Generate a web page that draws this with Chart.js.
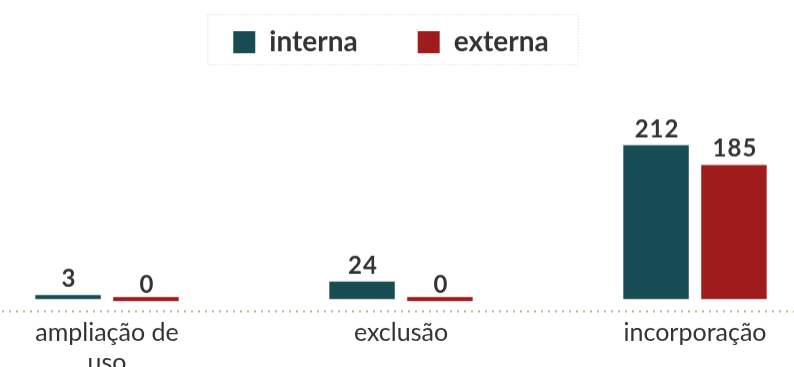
<!DOCTYPE html>
<html>
<head>
<meta charset="utf-8">
<script src="https://cdn.jsdelivr.net/npm/chart.js@4"></script>
<style>
  html, body { margin: 0; padding: 0; background: #fff; overflow: hidden; }
  #wrap { position: absolute; left: -40px; top: -32px; width: 882px; height: 406.5px; }
</style>
</head>
<body>
<div id="wrap"><canvas id="myChart"></canvas></div>
<script>
// Dataset
const categories = [["ampliação de", "uso"], "exclusão", "incorporação"];
const interna = [3, 24, 212];
const externa = [0, 0, 185];

const TEAL = "#184c54";
const RED = "#a01b1b";
const TEXT = "#333333";

// value labels over each bar
const valueLabels = {
  id: "valueLabels",
  afterDatasetsDraw(chart) {
    const ctx = chart.ctx;
    ctx.save();
    ctx.font = "bold 24px Lato";
    ctx.letterSpacing = "1px";
    ctx.fillStyle = TEXT;
    ctx.textAlign = "center";
    ctx.textBaseline = "bottom";
    chart.data.datasets.forEach((ds, i) => {
      chart.getDatasetMeta(i).data.forEach((bar, j) => {
        ctx.fillText(String(ds.data[j]), bar.x + 1, bar.y - 4);
      });
    });
    ctx.restore();
  }
};

// nudge the legend a little to the left, like the original
const legendShift = {
  id: "legendShift",
  afterLayout(chart) {
    chart.legend.left -= 10;
    chart.legend.right -= 10;
  }
};

// dotted frame round the legend + dotted baseline
const decorations = {
  id: "decorations",
  afterDraw(chart) {
    const ctx = chart.ctx;
    const boxes = chart.legend.legendHitBoxes;
    ctx.save();
    if (boxes && boxes.length) {
      let l = Infinity, r = -Infinity, t = boxes[0].top;
      boxes.forEach(b => { l = Math.min(l, b.left); r = Math.max(r, b.left + b.width); });
      ctx.strokeStyle = "#dcd9c6";
      ctx.lineWidth = 1;
      ctx.setLineDash([1, 2]);
      ctx.strokeRect(l - 25.5, t - 13.5, (r - l) + 55, 50);
    }
    const y = chart.chartArea.bottom;
    ctx.strokeStyle = "#b8b38e";
    ctx.lineWidth = 2;
    ctx.setLineDash([2, 5]);
    ctx.beginPath();
    ctx.moveTo(0, y);
    ctx.lineTo(chart.width, y);
    ctx.stroke();
    ctx.restore();
  }
};

const data = {
  labels: categories,
  datasets: [
    { label: "interna", data: interna, backgroundColor: TEAL, minBarLength: 4 },
    { label: "externa", data: externa, backgroundColor: RED, minBarLength: 4 },
  ],
};

const config = {
  type: "bar",
  data: data,
  options: {
    responsive: true,
    maintainAspectRatio: false,
    animation: false,
    datasets: { bar: { categoryPercentage: 0.53, barPercentage: 0.84 } },
    plugins: {
      legend: {
        position: "top",
        labels: {
          boxWidth: 22,
          boxHeight: 22,
          padding: 60,
          color: TEXT,
          font: { family: "Lato", size: 28, weight: "bold" },
        },
      },
      tooltip: { enabled: false },
    },
    scales: {
      x: {
        grid: { display: false },
        border: { display: false },
        ticks: {
          color: TEXT,
          padding: -2,
          maxRotation: 0,
          font: { family: "Lato", size: 25, lineHeight: 1.2 },
        },
      },
      y: {
        display: false,
        min: -17,
        max: 321,
      },
    },
  },
  plugins: [valueLabels, legendShift, decorations],
};

// Plotting
let myChart = document.getElementById("myChart").getContext("2d");
new Chart(myChart, config);
</script>
</body>
</html>
